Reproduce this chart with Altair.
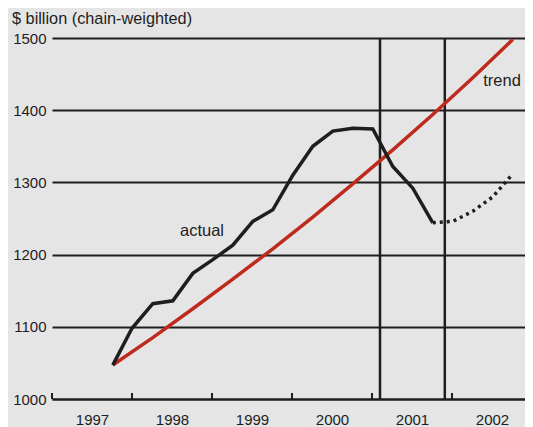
import altair as alt
import pandas as pd

# ---- data ----
actual_x = [1997.76, 1998.00, 1998.26, 1998.51, 1998.76, 1999.01, 1999.26, 1999.51,
            1999.76, 2000.01, 2000.26, 2000.51, 2000.76, 2001.01, 2001.26, 2001.51, 2001.76]
actual_y = [1047, 1098, 1132, 1136, 1174, 1193, 1213, 1246,
            1262, 1310, 1350, 1371, 1375, 1374, 1322, 1292, 1244]

forecast_x = [2001.76, 2002.01, 2002.26, 2002.51, 2002.76]
forecast_y = [1244, 1246, 1260, 1280, 1312]

trend_x = [1997.76, 1998.26, 1998.76, 1999.26, 1999.76, 2000.26, 2000.76,
           2001.26, 2001.76, 2002.26, 2002.76]
trend_y = [1047, 1085, 1125, 1166, 1208, 1252, 1298, 1345, 1394, 1445, 1498]

recession_bounds = [2001.10, 2001.91]
year_ticks = [1997, 1998, 1999, 2000, 2001, 2002, 2003]
year_labels = [1997, 1998, 1999, 2000, 2001, 2002]
y_ticks = [1000, 1100, 1200, 1300, 1400, 1500]

label_text = ["actual", "trend"]
label_x = [1998.875, 2002.625]
label_y = [1233, 1440]

# ---- tables ----
actual_df = pd.DataFrame({"x": actual_x, "y": actual_y})
forecast_df = pd.DataFrame({"x": forecast_x, "y": forecast_y})
trend_df = pd.DataFrame({"x": trend_x, "y": trend_y})
rec_df = pd.DataFrame({"x": recession_bounds, "y0": [1000] * 2, "y1": [1500] * 2})
tick_df = pd.DataFrame({"x": year_ticks, "y0": [1000] * len(year_ticks), "y1": [1008.3] * len(year_ticks)})
lab_df = pd.DataFrame({"t": label_text, "x": label_x, "y": label_y})

INK = "#1e1e1e"
RED = "#bf2a1e"

xscale = alt.Scale(domain=[1997, 2003], range=[0, 480], nice=False, zero=False)
yscale = alt.Scale(domain=[1000, 1500], nice=False, zero=False)

x_axis = alt.Axis(values=year_labels, format="d", labelOffset=40, ticks=False,
                  domain=True, domainColor=INK, domainWidth=2, grid=False,
                  labelFontSize=15, labelColor=INK, labelPadding=13,
                  labelFlush=False, labelOverlap=False, title=None)
y_axis = alt.Axis(values=y_ticks, format="d", ticks=False, domain=False, grid=True,
                  gridColor=INK, gridWidth=2, gridOpacity=1,
                  labelFontSize=15, labelColor=INK, labelPadding=6, title=None)

trend = alt.Chart(trend_df).mark_line(color=RED, strokeWidth=3.5).encode(
    x=alt.X("x:Q", scale=xscale, axis=x_axis),
    y=alt.Y("y:Q", scale=yscale, axis=y_axis),
)

rec = alt.Chart(rec_df).mark_rule(color=INK, strokeWidth=2.5).encode(
    x=alt.X("x:Q", scale=xscale),
    y=alt.Y("y0:Q", scale=yscale),
    y2="y1:Q",
)

ticks = alt.Chart(tick_df).mark_rule(color=INK, strokeWidth=2).encode(
    x=alt.X("x:Q", scale=xscale),
    y=alt.Y("y0:Q", scale=yscale),
    y2="y1:Q",
)

actual = alt.Chart(actual_df).mark_line(color=INK, strokeWidth=3.5, strokeJoin="miter").encode(
    x=alt.X("x:Q", scale=xscale),
    y=alt.Y("y:Q", scale=yscale),
)

forecast = alt.Chart(forecast_df).mark_line(color=INK, strokeWidth=3.5, strokeDash=[3, 4], strokeCap="butt").encode(
    x=alt.X("x:Q", scale=xscale),
    y=alt.Y("y:Q", scale=yscale),
)

labels = alt.Chart(lab_df).mark_text(fontSize=16.5, color=INK, align="center", baseline="middle").encode(
    x=alt.X("x:Q", scale=xscale),
    y=alt.Y("y:Q", scale=yscale),
    text="t:N",
)

chart = alt.layer(rec, ticks, trend, actual, forecast, labels).properties(
    width=472,
    height=361,
    padding={"left": 44, "top": 30, "right": 1, "bottom": 36},
    autosize=alt.AutoSizeParams(type="none"),
    background="#e5e5e5",
    title=alt.TitleParams("$ billion (chain-weighted)", anchor="start", frame="group",
                          dx=-40, dy=18, offset=8.5, baseline="alphabetic", fontSize=16.3,
                          fontWeight="normal", color=INK),
).configure(
    font="Liberation Sans",
).configure_view(stroke=None)

chart.save("out.html", embed_options={"renderer": "svg", "actions": False})
